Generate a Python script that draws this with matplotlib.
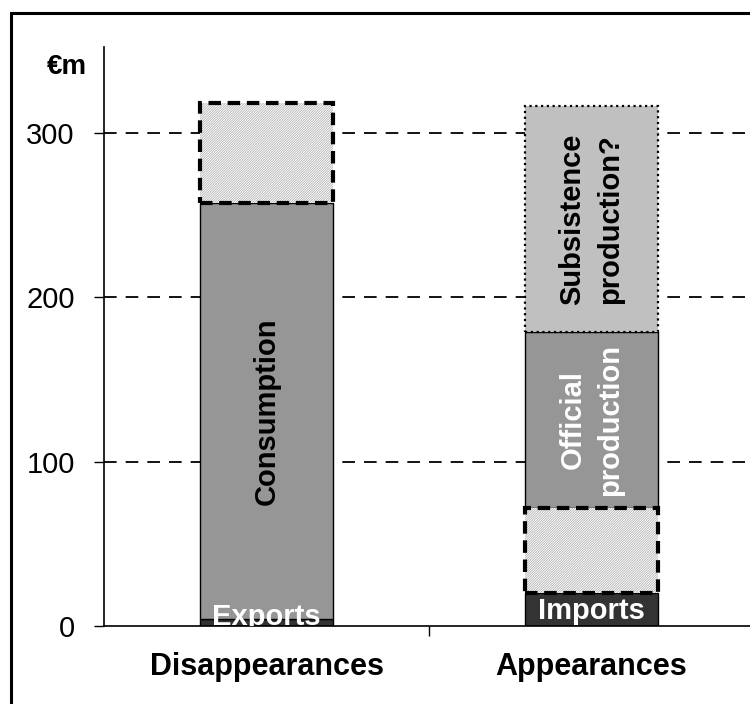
import matplotlib.pyplot as plt
import matplotlib.patches as mpatches
import numpy as np

plt.rcParams['font.family'] = ['Liberation Sans', 'DejaVu Sans']
plt.rcParams['hatch.linewidth'] = 0.5

categories = ["Disappearances", "Appearances"]
# Disappearances stack
exports = 4
consumption = 253
disp_unknown = 61
# Appearances stack
imports = 20
app_unknown = 52
official = 107
subsistence = 137

yticks = [0, 100, 200, 300]

fig = plt.figure(figsize=(7.5, 7.04), dpi=100)
ax = fig.add_axes([104/750, 1 - 626/704, 650/750, (626 - 47)/704])

x = np.arange(len(categories))
w = 0.41
fine_hatch = '/' * 14


def unknown_box(xc, height, bottom):
    # hatch colour follows edgecolor, so fill and outline are drawn separately
    ax.bar(xc, height, w, bottom=bottom, color='white', edgecolor='#a8a8a8',
           hatch=fine_hatch, lw=0, zorder=3)
    ax.bar(xc, height, w, bottom=bottom, fill=False, edgecolor='black',
           lw=3, ls=(0, (3, 1.6)), zorder=4)


# grid behind
for yv in yticks[1:]:
    ax.axhline(yv, color='black', lw=1.3, ls=(0, (7, 5)), zorder=0)

# Disappearances
ax.bar(x[0], exports, w, color='#333333', edgecolor='black', lw=1, zorder=2)
ax.bar(x[0], consumption, w, bottom=exports, color='#969696', edgecolor='black', lw=1, zorder=2)
unknown_box(x[0], disp_unknown, exports + consumption)

# Appearances
ax.bar(x[1], imports, w, color='#333333', edgecolor='black', lw=1, zorder=2)
ax.bar(x[1], official, w, bottom=imports + app_unknown, color='#969696', edgecolor='black', lw=1, zorder=2)
ax.bar(x[1], subsistence, w, bottom=imports + app_unknown + official, color='#c0c0c0',
       edgecolor='black', lw=1.6, ls=(0, (1, 1.6)), zorder=2)
unknown_box(x[1], app_unknown, imports)

# labels inside bars
fs_in = 21
ax.text(x[0], exports + consumption / 2, "Consumption", rotation=90, ha='center', va='center',
        fontsize=fs_in, fontweight='bold', color='black', zorder=5)
ax.text(x[0], 0.5, "Exports", ha='center', va='baseline', fontsize=fs_in, fontweight='bold',
        color='white', zorder=5, clip_on=True)
ax.text(x[1], imports + app_unknown + official / 2, "Official\nproduction", rotation=90,
        ha='center', va='center', fontsize=fs_in, fontweight='bold', color='white',
        linespacing=1.45, zorder=5)
ax.text(x[1], imports + app_unknown + official + subsistence / 2, "Subsistence\nproduction?",
        rotation=90, ha='center', va='center', fontsize=fs_in, fontweight='bold', color='black',
        linespacing=1.45, zorder=5)
ax.text(x[1], 4, "Imports", ha='center', va='baseline', fontsize=fs_in, fontweight='bold',
        color='white', zorder=5)

ax.set_xlim(-0.5, 1.5)
ax.set_ylim(0, 352)
ax.set_yticks(yticks)
ax.set_yticklabels([str(v) for v in yticks], fontsize=21)
ax.set_xticks(x)
ax.set_xticklabels(categories, fontsize=22, fontweight='bold')
ax.tick_params(axis='x', length=0, pad=19)
ax.set_xticks([0.5], minor=True)
ax.tick_params(axis='x', which='minor', length=7, width=1)
ax.tick_params(axis='y', length=7, width=1, pad=14)
for s in ['top', 'right']:
    ax.spines[s].set_visible(False)
ax.spines['left'].set_linewidth(1.2)
ax.spines['bottom'].set_linewidth(1.2)

fig.text(67/750, 1 - 67/704, "€m", fontsize=20, fontweight='bold', ha='center', va='center')

# outer frame
frame = mpatches.Rectangle((11/750, -0.1), 1.2, 1 - 13/704 + 0.1, transform=fig.transFigure,
                           fill=False, edgecolor='black', lw=2.2, zorder=10)
fig.patches.append(frame)

fig.savefig("out.png", dpi=100)
